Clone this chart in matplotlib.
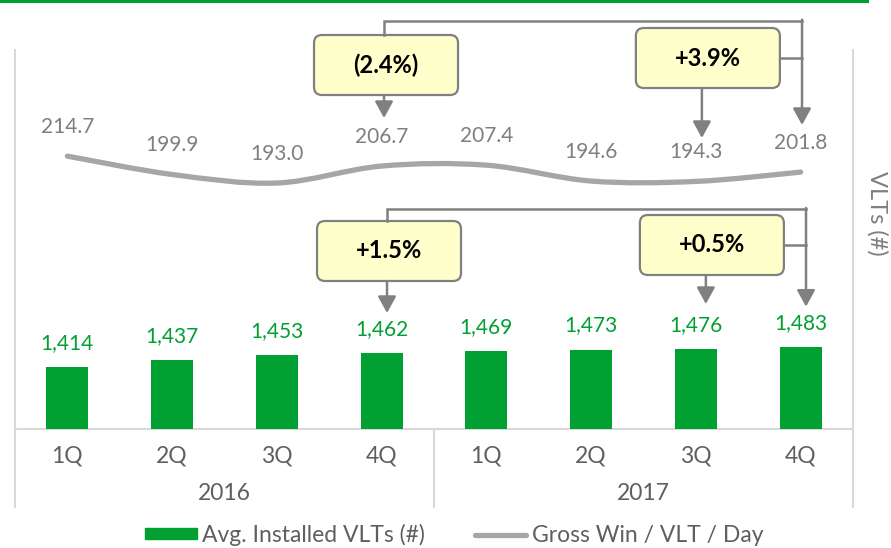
import numpy as np
import matplotlib
matplotlib.use('Agg')
import matplotlib.pyplot as plt
from matplotlib.path import Path
from matplotlib.patches import PathPatch, FancyBboxPatch, Rectangle
from matplotlib.lines import Line2D

plt.rcParams['font.family'] = ['Lato', 'DejaVu Sans']

# data
quarters = ['1Q', '2Q', '3Q', '4Q', '1Q', '2Q', '3Q', '4Q']
years = ['2016', '2017']
vlts = [1414, 1437, 1453, 1462, 1469, 1473, 1476, 1483]
gross_win = [214.7, 199.9, 193.0, 206.7, 207.4, 194.6, 194.3, 201.8]
bar_label = 'Avg. Installed VLTs (#)'
line_label = 'Gross Win / VLT / Day'
# callouts: text, index of arrow under box
win_calls = [('(2.4%)', 3), ('+3.9%', 6)]
vlt_calls = [('+1.5%', 3), ('+0.5%', 6)]

GREEN = '#00A032'
LGREY = '#A6A6A6'
AGREY = '#808080'
TGREY = '#7F7F7F'
DGREY = '#5F5F5F'
SEP = '#D9D9D9'

W, H = 891, 548
fig = plt.figure(figsize=(W / 100, H / 100), dpi=100)

# plot area in pixels
x0, x1, ytop, ybase = 15, 853, 50, 429
ax = fig.add_axes([x0 / W, (H - ybase) / H, (x1 - x0) / W, (ybase - ytop) / H])
x = np.arange(len(vlts))
ax.bar(x, vlts, width=0.4, color=GREEN, zorder=2)
ax.set_xlim(-0.5, len(vlts) - 0.5)
ax.set_ylim(1199, 2506)
for s in ax.spines.values():
    s.set_visible(False)
ax.set_xticks([])
ax.set_yticks([])
for xi, v in zip(x, vlts):
    ax.annotate(f'{v:,}', (xi, v), xytext=(0, 24), textcoords='offset pixels',
                ha='center', va='center', fontsize=15, color=GREEN)

# category axis
xt = ax.get_xaxis_transform()
for xi, q in zip(x, quarters):
    ax.text(xi, -27 / 379, q, transform=xt, ha='center', va='center', fontsize=16.5, color=DGREY)
for i, yr in enumerate(years):
    ax.text(1.5 + 4 * i, -65 / 379, yr, transform=xt, ha='center', va='center', fontsize=16.5, color=DGREY)
low = -(506.7 - ybase) / 379
ax.plot([-0.5, 7.5], [0, 0], transform=xt, color=SEP, lw=1.5, clip_on=False, zorder=1)
ax.plot([-0.5, -0.5], [1, low], transform=xt, color=SEP, lw=1.5, clip_on=False)
ax.plot([7.5, 7.5], [1, low], transform=xt, color=SEP, lw=1.5, clip_on=False)
ax.plot([3.5, 3.5], [0, low], transform=xt, color=SEP, lw=1.5, clip_on=False)

# smoothed line on a second scale
ax2 = ax.twinx()
ax2.set_ylim(-5.4, 300.3)
ax2.set_yticks([])
for s in ax2.spines.values():
    s.set_visible(False)
pts = np.column_stack([x, gross_win]).astype(float)
verts = [pts[0]]
codes = [Path.MOVETO]
n = len(pts)
for i in range(n - 1):
    p0 = pts[max(i - 1, 0)]
    p1 = pts[i]
    p2 = pts[i + 1]
    p3 = pts[min(i + 2, n - 1)]
    verts += [p1 + (p2 - p0) / 6, p2 - (p3 - p1) / 6, p2]
    codes += [Path.CURVE4] * 3
ax2.add_patch(PathPatch(Path(verts, codes), fill=False, edgecolor=LGREY, lw=3.8,
                        capstyle='round', clip_on=False))
for xi, v in zip(x, gross_win):
    ax2.annotate(f'{v:.1f}', (xi, v), xytext=(0, 29), textcoords='offset pixels',
                 ha='center', va='center', fontsize=15, color=TGREY)

# overlay in pixel coordinates for callouts and legend
ov = fig.add_axes([0, 0, 1, 1])
ov.set_xlim(0, W)
ov.set_ylim(H, 0)
ov.axis('off')


def xpix(i):
    return ax.transData.transform((i, 0))[0]


def box(cx, cy, text, w=144, h=60):
    ov.add_patch(FancyBboxPatch((cx - w / 2 + 8, cy - h / 2 + 8), w - 16, h - 16,
                                boxstyle='round,pad=8', fc='#FFFFCC', ec=AGREY, lw=1.6))
    ov.text(cx, cy, text, ha='center', va='center', fontsize=17, fontweight='bold', color='black')


def arrow(xa, y_from, y_to):
    ov.annotate('', xy=(xa, y_to), xytext=(xa, y_from),
                arrowprops=dict(arrowstyle='-|>,head_length=1.0,head_width=0.55', color=AGREY,
                                lw=1.8, shrinkA=0, shrinkB=0, mutation_scale=10))


def callouts(calls, end_idx, yb, box_ys, tips, end_tip, offs):
    (t1, i1), (t2, i2) = calls
    xa = xpix(i1) + offs[0]
    xb = xpix(i2) + offs[1]
    xe = xpix(end_idx) + offs[2]
    ov.plot([xa, xa, xe], [box_ys[0][0], yb, yb], color=AGREY, lw=1.8, solid_joinstyle='miter')
    arrow(xe, yb - 1, end_tip)
    box(xa + 2, (box_ys[0][0] + box_ys[0][1]) / 2, t1)
    arrow(xa, box_ys[0][1], tips[0])
    cb = xb + 6
    box(cb, (box_ys[1][0] + box_ys[1][1]) / 2, t2)
    ov.plot([cb + 72, xe], [(box_ys[1][0] + box_ys[1][1]) / 2] * 2, color=AGREY, lw=1.8)
    arrow(xb, box_ys[1][1], tips[1])


callouts(win_calls, 7, 20.7, [(35, 95), (27, 89)], [118, 138], 125, (2.4, 6, 1.4))
callouts(vlt_calls, 7, 209, [(221, 281), (215, 275)], [313, 304], 306.7, (5.4, 10, 5.4))

# top rule
ov.plot([0, 867], [1, 1], color=GREEN, lw=2.2)

# right axis title
ov.text(877, 213, 'VLTs (#)', rotation=-90, ha='center', va='center', fontsize=17, color=TGREY)

# legend
ov.add_patch(Rectangle((145, 528), 52, 11, color=GREEN))
ov.text(202, 535, bar_label, ha='left', va='center', fontsize=16.5, color=DGREY)
ov.add_line(Line2D([475, 526], [535, 535], color=LGREY, lw=3.8, solid_capstyle='round'))
ov.text(532, 535, line_label, ha='left', va='center', fontsize=16.5, color=DGREY)

fig.savefig('out.png', dpi=100)
